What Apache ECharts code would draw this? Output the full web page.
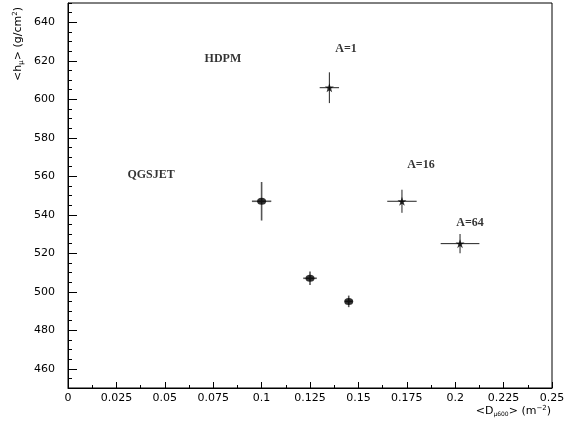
<!DOCTYPE html>
<html>
<head>
<meta charset="utf-8">
<script src="https://cdn.jsdelivr.net/npm/echarts@6/dist/echarts.min.js"></script>
<style>html,body{margin:0;padding:0;background:#fff}#c{width:575px;height:422px}</style>
</head>
<body>
<div id="c"></div>
<script>
// HDPM (stars)
const hdpmX = [0.135, 0.1725, 0.2025];
const hdpmY = [606, 547, 525];
const hdpmXErr = [0.005, 0.0076, 0.01];
const hdpmYErr = [8, 6, 5];
// QGSJET (dots)
const qgsX = [0.1, 0.125, 0.145];
const qgsY = [547, 507, 495];
const qgsXErr = [0.005, 0.0035, 0.002];
const qgsYErr = [10, 3.5, 3];
// Text annotations (data coordinates)
const noteText = ['HDPM', 'A=1', 'A=16', 'A=64', 'QGSJET'];
const noteX = [0.080, 0.1436, 0.1823, 0.2077, 0.0429];
const noteY = [621, 626, 566, 536, 560.5];
// Tick labels
const yTicks = [460, 480, 500, 520, 540, 560, 580, 600, 620, 640];
const xTicks = [0, 0.025, 0.05, 0.075, 0.1, 0.125, 0.15, 0.175, 0.2, 0.225, 0.25];

const starPath = 'path://M50,0 L61.8,35.4 L100,35.4 L69.1,57.3 L80.9,95.1 L50,73.2 L19.1,95.1 L30.9,57.3 L0,35.4 L38.2,35.4 Z';

function errData(xs, ys, xe, ye) {
  return xs.map((x, i) => [x, ys[i], xe[i], ye[i]]);
}
function errRender(color, width) {
  return function (params, api) {
    const x = api.value(0), y = api.value(1), dx = api.value(2), dy = api.value(3);
    const l = api.coord([x - dx, y]), r = api.coord([x + dx, y]);
    const t = api.coord([x, y + dy]), b = api.coord([x, y - dy]);
    return {
      type: 'group',
      children: [
        {type: 'line', shape: {x1: l[0], y1: l[1], x2: r[0], y2: r[1]}, style: {stroke: color, lineWidth: width}},
        {type: 'line', shape: {x1: t[0], y1: t[1], x2: b[0], y2: b[1]}, style: {stroke: color, lineWidth: width}}
      ]
    };
  };
}

const chart = echarts.init(document.getElementById('c'), null, {renderer: 'canvas'});
const labelFont = {fontFamily: 'DejaVu Sans', fontSize: 11, color: '#000'};
chart.setOption({
  backgroundColor: '#fff',
  animation: false,
  grid: {left: 68, right: 23, top: 3, bottom: 34, show: true, borderColor: '#000', borderWidth: 1, backgroundColor: 'transparent'},
  xAxis: [{
    type: 'value', min: 0, max: 0.25, interval: 0.025,
    axisLine: {show: true, lineStyle: {color: '#000', width: 1}},
    axisTick: {show: true, inside: true, length: 6, lineStyle: {color: '#000'}, customValues: xTicks},
    minorTick: {show: true, splitNumber: 2, length: 3, lineStyle: {color: '#000'}},
    axisLabel: Object.assign({margin: 5, customValues: xTicks, formatter: v => String(+v.toFixed(4))}, labelFont),
    splitLine: {show: false}, minorSplitLine: {show: false}
  }],
  yAxis: [{
    type: 'value', min: 450, max: 650,
    axisLine: {show: true, lineStyle: {color: '#000', width: 1}},
    axisTick: {show: true, inside: true, length: 9, lineStyle: {color: '#000'}, customValues: yTicks},
    axisLabel: Object.assign({margin: 13, customValues: yTicks}, labelFont),
    splitLine: {show: false}
  }, {
    type: 'value', min: 450, max: 650, interval: 5, position: 'left',
    axisLine: {show: false},
    axisTick: {show: true, inside: true, length: 4, lineStyle: {color: '#000'}},
    axisLabel: {show: false},
    splitLine: {show: false}
  }],
  graphic: [
    {type: 'text', x: 18, y: 44, rotation: Math.PI / 2,
     style: {text: '{a|<h}{s|μ}{a|> (g/cm}{p|2}{a|)}', align: 'center', verticalAlign: 'middle',
       rich: {a: {fontFamily: 'DejaVu Sans', fontSize: 11, fill: '#000'},
              s: {fontFamily: 'DejaVu Sans', fontSize: 7, fill: '#000', padding: [6, 0, 0, 0]},
              p: {fontFamily: 'DejaVu Sans', fontSize: 7, fill: '#000', padding: [0, 0, 6, 0]}}}},
    {type: 'text', x: 551, y: 411,
     style: {text: '{a|<D}{s|μ600}{a|> (m}{p|−2}{a|)}', align: 'right', verticalAlign: 'middle',
       rich: {a: {fontFamily: 'DejaVu Sans', fontSize: 11, fill: '#000'},
              s: {fontFamily: 'DejaVu Sans', fontSize: 6, fill: '#000', padding: [6, 0, 0, 0]},
              p: {fontFamily: 'DejaVu Sans', fontSize: 7, fill: '#000', padding: [0, 0, 6, 0]}}}}
  ],
  series: [
    {type: 'custom', name: 'QGSJET err', renderItem: errRender('#555', 1.6), data: errData(qgsX, qgsY, qgsXErr, qgsYErr), encode: {x: 0, y: 1}, z: 2},
    {type: 'custom', name: 'HDPM err', renderItem: errRender('#222', 1), data: errData(hdpmX, hdpmY, hdpmXErr, hdpmYErr), encode: {x: 0, y: 1}, z: 2},
    {type: 'scatter', name: 'QGSJET', data: qgsX.map((x, i) => [x, qgsY[i]]), symbol: 'circle', symbolSize: [9, 7], itemStyle: {color: '#000'}, z: 3},
    {type: 'scatter', name: 'HDPM', data: hdpmX.map((x, i) => [x, hdpmY[i]]), symbol: starPath, symbolSize: 9, itemStyle: {color: '#000'}, z: 3},
    {type: 'scatter', name: 'notes', data: noteX.map((x, i) => ({value: [x, noteY[i]], name: noteText[i]})), symbolSize: 0,
     label: {show: true, position: 'inside', formatter: p => p.name, fontFamily: 'Liberation Serif', fontWeight: 'bold', fontSize: 12, color: '#000'}, z: 4}
  ]
});
</script>
</body>
</html>
